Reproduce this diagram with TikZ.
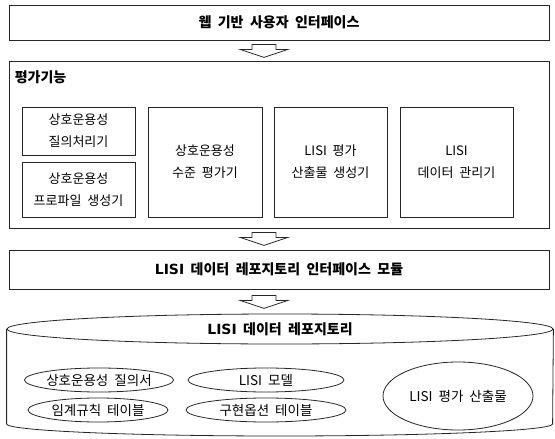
\documentclass[tikz,border=0pt]{standalone}
\usepackage{fontspec}
\setmainfont{Noto Sans CJK KR}[WordSpace=2]
\newfontfamily\verd{DejaVu Sans}
\usetikzlibrary{calc,shapes.geometric}
\begin{document}
\begin{tikzpicture}[x=1pt,y=-1pt,
  ln/.style={draw=black!85, line width=0.8pt},
  box/.style={ln, rectangle, inner sep=0pt, align=center},
  bigtxt/.style={font=\fontsize{14}{16}\selectfont\bfseries},
  smalltxt/.style={font=\fontsize{13}{22}\selectfont},
  oval/.style={ln, ellipse, inner sep=0pt, font=\fontsize{13.5}{15}\selectfont},
  blockarrow/.pic={\draw[ln, fill=white] (-12,0) -- (12,0) -- (12,5) -- (24,5) -- (0,13) -- (-24,5) -- (-12,5) -- cycle;}
]
\useasboundingbox (0,0) rectangle (555,439);

% top box
\node[box, bigtxt, minimum width=540pt, minimum height=35pt] (web) at (279,22.5) {웹 기반 사용자 인터페이스};
\pic at ($(web.south)+(-15,4)$) {blockarrow};

% evaluation frame
\node[box, minimum width=540pt, minimum height=167pt] (eval) at (279,144.5) {};
\node[anchor=west, bigtxt, inner sep=0pt] (evaltitle) at ($(eval.north west)+(6,17)$) {평가기능};

\node[box, smalltxt, minimum width=113pt, minimum height=48pt] (qa) at (78.5,131) {상호운용성\\질의처리기};
\node[box, smalltxt, minimum width=113pt, minimum height=55pt] (pg) at (78.5,189.5) {상호운용성\\프로파일 생성기};
\node[box, smalltxt, minimum width=114pt, minimum height=110pt] (lv) at (205,162) {상호운용성\\수준 평가기};
\node[box, smalltxt, minimum width=113pt, minimum height=110pt] (og) at (330.5,162) {LISI 평가\\산출물 생성기};
\node[box, smalltxt, minimum width=113pt, minimum height=110pt] (dm) at (456.5,162) {LISI\\데이터 관리기};

\pic at ($(eval.south)+(-15,4)$) {blockarrow};

% repository interface module
\node[box, bigtxt, minimum width=540pt, minimum height=39pt] (rim) at (279,269.5) {{\verd\bfseries LISI} 데이터 레포지토리 인터페이스 모듈};
\pic at ($(rim.south)+(-15,6)$) {blockarrow};

% repository cylinder
\node[ln, ellipse, inner sep=0pt, minimum width=546pt, minimum height=30pt, bigtxt] (repo) at (280,329) {{\verd\bfseries LISI} 데이터 레포지토리};
\draw[ln] (repo.west) -- ++(0,95) arc[start angle=180, end angle=0, x radius=273, y radius=12] -- (repo.east);

\node[oval, minimum width=142pt, minimum height=24pt] (qs) at (99,380) {상호운용성 질의서};
\node[oval, minimum width=156pt, minimum height=24pt] (md) at (266,380) {LISI 모델};
\node[oval, minimum width=140pt, minimum height=24pt] (th) at (98,410) {임계규칙 테이블};
\node[oval, minimum width=160pt, minimum height=24pt] (io) at (266,410) {구현옵션 테이블};
\node[oval, minimum width=150pt, minimum height=68pt] (out) at (458,396) {LISI 평가 산출물};
\end{tikzpicture}
\end{document}
